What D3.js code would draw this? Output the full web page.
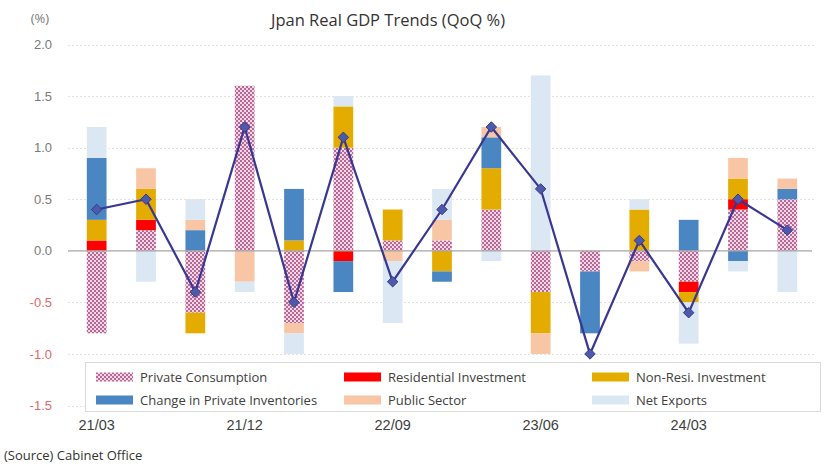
<!DOCTYPE html>
<html>
<head>
<meta charset="utf-8">
<script src="https://cdn.jsdelivr.net/npm/d3@7"></script>
<style>
  html, body { margin: 0; padding: 0; background: #ffffff; }
  svg { display: block; font-family: "Open Sans", "Noto Sans", sans-serif; }
</style>
</head>
<body>
<svg id="chart" width="835" height="466"></svg>
<script>
// Quarterly contributions to real GDP growth (percentage points)
const quarters = ["21/03","21/06","21/09","21/12","22/03","22/06","22/09","22/12",
                  "23/03","23/06","23/09","23/12","24/03","24/06","24/09"];
const xTickLabels = ["21/03","21/12","22/09","23/06","24/03"];
const yTicks = [-1.5, -1.0, -0.5, 0.0, 0.5, 1.0, 1.5, 2.0];

const privateConsumption = [-0.8, 0.2, -0.6, 1.6, -0.7, 1.0, 0.1, 0.1, 0.4, -0.4, -0.2, -0.1, -0.3, 0.4, 0.5];
const residentialInvestment = [0.1, 0.1, 0.0, 0.0, 0.0, -0.1, 0.0, 0.0, 0.0, 0.0, 0.0, 0.0, -0.1, 0.1, 0.0];
const nonResiInvestment = [0.2, 0.3, -0.2, 0.0, 0.1, 0.4, 0.3, -0.2, 0.4, -0.4, 0.0, 0.4, -0.1, 0.2, 0.0];
const privateInventories = [0.6, 0.0, 0.2, 0.0, 0.5, -0.3, 0.0, -0.1, 0.3, 0.0, -0.6, 0.0, 0.3, -0.1, 0.1];
const publicSector = [0.0, 0.2, 0.1, -0.3, -0.1, 0.0, -0.1, 0.2, 0.1, -0.2, 0.0, -0.1, 0.0, 0.2, 0.1];
const netExports = [0.3, -0.3, 0.2, -0.1, -0.2, 0.1, -0.6, 0.3, -0.1, 1.7, 0.0, 0.1, -0.4, -0.1, -0.4];
const realGdp = [0.4, 0.5, -0.4, 1.2, -0.5, 1.1, -0.3, 0.4, 1.2, 0.6, -1.0, 0.1, -0.6, 0.5, 0.2];

const seriesNames = ["Private Consumption", "Residential Investment", "Non-Resi. Investment",
                     "Change in Private Inventories", "Public Sector", "Net Exports"];
const seriesValues = [privateConsumption, residentialInvestment, nonResiInvestment,
                      privateInventories, publicSector, netExports];
const seriesFills = ["url(#hatchPC)", "#ff0000", "#e5ac00", "#4a86c1", "#f8c6a4", "#dbe7f3"];

const svg = d3.select("#chart");

// checkered fill for private consumption
const defs = svg.append("defs");
const pat = defs.append("pattern").attr("id", "hatchPC")
  .attr("patternUnits", "userSpaceOnUse").attr("width", 4).attr("height", 4);
pat.append("rect").attr("width", 4).attr("height", 4).attr("fill", "#efd9e5");
pat.append("rect").attr("x", 0).attr("y", 0).attr("width", 2).attr("height", 2).attr("fill", "#bb6696");
pat.append("rect").attr("x", 2).attr("y", 2).attr("width", 2).attr("height", 2).attr("fill", "#bb6696");

const x = d3.scaleBand().domain(quarters).range([72, 812]).paddingInner(0.6).paddingOuter(0.3);
const y = d3.scaleLinear().domain([-1.5, 2.0]).range([405.5, 44.5]);

// gridlines
svg.append("g").selectAll("line").data(yTicks.filter(d => d !== 0)).join("line")
  .attr("x1", 68).attr("x2", 815)
  .attr("y1", d => Math.round(y(d)) + 0.5).attr("y2", d => Math.round(y(d)) + 0.5)
  .attr("stroke", "#e2e2e2").attr("stroke-width", 1).attr("stroke-dasharray", "2,2");

// y axis labels
const yAxis = d3.axisLeft(y).tickValues(yTicks).tickSize(0).tickPadding(0)
  .tickFormat(d => d3.format(".1f")(d).replace("−", "-"));
const yG = svg.append("g").attr("transform", "translate(52,0)").call(yAxis);
yG.select(".domain").remove();
yG.selectAll("text")
  .attr("font-size", 13)
  .attr("fill", d => d < 0 ? "#e06a6a" : "#7a7a7a");

// stacked contribution bars
const rows = quarters.map((q, i) => {
  const r = { q };
  seriesNames.forEach((n, k) => r[n] = seriesValues[k][i]);
  return r;
});
const stacked = d3.stack().keys(seriesNames).offset(d3.stackOffsetDiverging)(rows);

svg.append("g").selectAll("g").data(stacked).join("g")
  .attr("fill", (d, i) => seriesFills[i])
  .selectAll("rect").data(d => d).join("rect")
  .attr("x", d => x(d.data.q))
  .attr("width", x.bandwidth())
  .attr("y", d => y(Math.max(d[0], d[1])))
  .attr("height", d => Math.abs(y(d[0]) - y(d[1])));

// zero line
svg.append("line").attr("x1", 68).attr("x2", 812)
  .attr("y1", y(0)).attr("y2", y(0))
  .attr("stroke", "#a6a6a6").attr("stroke-width", 1.2);

// real GDP line
const cx = q => x(q) + x.bandwidth() / 2;
svg.append("path").datum(realGdp)
  .attr("fill", "none").attr("stroke", "#383893").attr("stroke-width", 2.2)
  .attr("d", d3.line().x((d, i) => cx(quarters[i])).y(d => y(d)));
svg.append("g").selectAll("path").data(realGdp).join("path")
  .attr("transform", (d, i) => `translate(${cx(quarters[i])},${y(d)})`)
  .attr("d", d3.symbol(d3.symbolDiamond2, 70))
  .attr("fill", "#4d5aa8").attr("stroke", "#383893").attr("stroke-width", 1);

// legend
const legend = svg.append("g");
legend.append("rect").attr("x", 85.5).attr("y", 362.5).attr("width", 735).attr("height", 49)
  .attr("fill", "#ffffff").attr("stroke", "#d9d9d9");
const legCols = [96, 344, 592];
const legRows = [377, 400];
seriesNames.forEach((n, i) => {
  const cxl = legCols[i % 3], cyl = legRows[Math.floor(i / 3)];
  legend.append("rect").attr("x", cxl).attr("y", cyl - 4.5).attr("width", 37).attr("height", 9)
    .attr("fill", seriesFills[i]);
  legend.append("text").attr("x", cxl + 44).attr("y", cyl).attr("dy", "0.35em")
    .attr("font-size", 13).attr("fill", "#404040").text(n);
});

// x axis labels
const xAxis = d3.axisBottom(x).tickSize(0).tickPadding(0)
  .tickFormat(q => xTickLabels.includes(q) ? q : "");
const xG = svg.append("g").attr("transform", "translate(0,420)").call(xAxis);
xG.select(".domain").remove();
xG.selectAll("text").attr("font-size", 14.5).attr("fill", "#404040");

// titles and notes
svg.append("text").attr("x", 388).attr("y", 26).attr("text-anchor", "middle")
  .attr("font-size", 16.5).attr("fill", "#333333").text("Jpan Real GDP Trends (QoQ %)");
svg.append("text").attr("x", 40).attr("y", 23).attr("text-anchor", "middle")
  .attr("font-size", 13).attr("fill", "#7a7a7a").text("(%)");
svg.append("text").attr("x", 4).attr("y", 460)
  .attr("font-size", 13).attr("fill", "#333333").text("(Source) Cabinet Office");
</script>
</body>
</html>
